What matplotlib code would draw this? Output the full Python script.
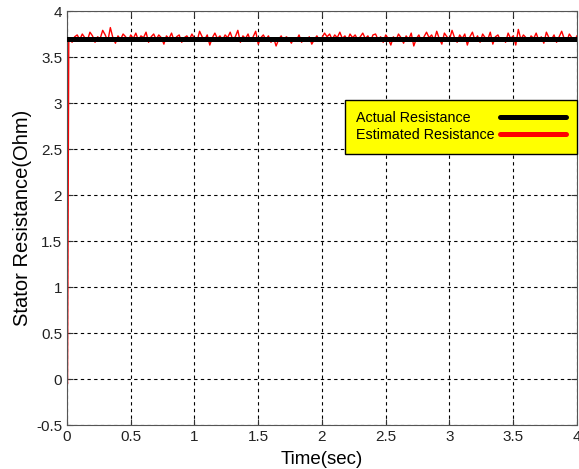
import numpy as np
import matplotlib.pyplot as plt

plt.rcParams['font.family'] = ['Liberation Sans', 'DejaVu Sans']

# actual stator resistance (Ohm)
actual_r = 3.7

# estimated resistance: start-up transient
t_start = [0.0, 0.004, 0.008, 0.014]
r_start = [0.0, -0.05, 1.5, 3.7]

# estimated resistance after convergence, sampled every 0.02 s from 0.02 to 4.00
r_est = [
    3.70, 3.66, 3.72, 3.74, 3.69, 3.75, 3.71, 3.68, 3.77, 3.73, 3.66, 3.72, 3.70, 3.79, 3.74, 3.67, 3.82, 3.71, 3.65, 3.73,
    3.69, 3.75, 3.72, 3.67, 3.74, 3.70, 3.76, 3.68, 3.73, 3.71, 3.77, 3.66, 3.72, 3.75, 3.69, 3.74, 3.71, 3.64, 3.73, 3.70,
    3.76, 3.68, 3.72, 3.74, 3.66, 3.71, 3.73, 3.69, 3.75, 3.70, 3.67, 3.78, 3.72, 3.69, 3.74, 3.63, 3.71, 3.76, 3.70, 3.73,
    3.68, 3.74, 3.71, 3.77, 3.69, 3.72, 3.79, 3.66, 3.73, 3.70, 3.75, 3.67, 3.72, 3.78, 3.64, 3.71, 3.74, 3.69, 3.73, 3.66,
    3.71, 3.62, 3.69, 3.73, 3.67, 3.72, 3.70, 3.65, 3.71, 3.68, 3.74, 3.66, 3.70, 3.67, 3.72, 3.64, 3.69, 3.73, 3.68, 3.71,
    3.76, 3.72, 3.75, 3.69, 3.74, 3.71, 3.77, 3.70, 3.73, 3.68, 3.75, 3.71, 3.74, 3.69, 3.72, 3.76, 3.70, 3.73, 3.67, 3.74,
    3.75, 3.69, 3.72, 3.66, 3.74, 3.70, 3.63, 3.72, 3.68, 3.75, 3.71, 3.65, 3.73, 3.69, 3.76, 3.62, 3.70, 3.74, 3.67, 3.72,
    3.77, 3.71, 3.74, 3.68, 3.78, 3.70, 3.64, 3.76, 3.72, 3.69, 3.79, 3.71, 3.66, 3.74, 3.70, 3.75, 3.63, 3.72, 3.77, 3.68,
    3.73, 3.66, 3.75, 3.71, 3.69, 3.77, 3.64, 3.72, 3.74, 3.68, 3.71, 3.66, 3.76, 3.70, 3.73, 3.63, 3.80, 3.69, 3.74, 3.71,
    3.67, 3.73, 3.70, 3.76, 3.68, 3.72, 3.65, 3.77, 3.71, 3.69, 3.74, 3.66, 3.72, 3.78, 3.70, 3.67, 3.75, 3.71, 3.68, 3.73,
]
t_est = np.linspace(0.02, 4.0, len(r_est))

t_all = list(t_start) + list(t_est)
r_all = list(r_start) + list(r_est)

xticks = [0, 0.5, 1, 1.5, 2, 2.5, 3, 3.5, 4]
yticks = [-0.5, 0, 0.5, 1, 1.5, 2, 2.5, 3, 3.5, 4]

fig = plt.figure(figsize=(5.79, 4.69), dpi=100)
ax = fig.add_axes([0.1157, 0.0938, 0.8808, 0.8827])

ax.plot(t_all, r_all, color='red', lw=1.0, label='Estimated Resistance', zorder=2)
# trailing spaces keep the legend text left aligned like the original
ax.plot([0, 4], [actual_r, actual_r], color='black', lw=3.6, label='Actual Resistance      ', zorder=3)

ax.set_xlim(0, 4)
ax.set_ylim(-0.5, 4)
ax.set_xticks(xticks)
ax.set_yticks(yticks)
ax.set_xticklabels(['0', '0.5', '1', '1.5', '2', '2.5', '3', '3.5', '4'])
ax.set_yticklabels(['-0.5', '0', '0.5', '1', '1.5', '2', '2.5', '3', '3.5', '4'])
ax.tick_params(direction='in', length=4, labelsize=11, top=True, right=True, colors='#333333', labelcolor='#222222')
ax.grid(True, color='black', linestyle=(0, (3, 3)), linewidth=0.8)
for s in ax.spines.values():
    s.set_color('#555555')

ax.set_xlabel('Time(sec)', fontsize=13.5, labelpad=5)
ax.set_ylabel('Stator Resistance(Ohm)', fontsize=14.5, labelpad=3)

h, l = ax.get_legend_handles_labels()
leg = ax.legend([h[1], h[0]], [l[1], l[0]], loc='upper right', bbox_to_anchor=(1.0, 0.785),
                markerfirst=False, handlelength=4.6, fontsize=10.3, fancybox=False,
                framealpha=1, borderaxespad=0, borderpad=0.8, labelspacing=0.2, handletextpad=0.35)
leg.get_frame().set_facecolor('yellow')
leg.get_frame().set_edgecolor('black')
leg.get_frame().set_linewidth(1.0)
for line in leg.get_lines():
    line.set_linewidth(3.6)
    line.set_solid_capstyle('round')

fig.savefig('out.png', dpi=100)
